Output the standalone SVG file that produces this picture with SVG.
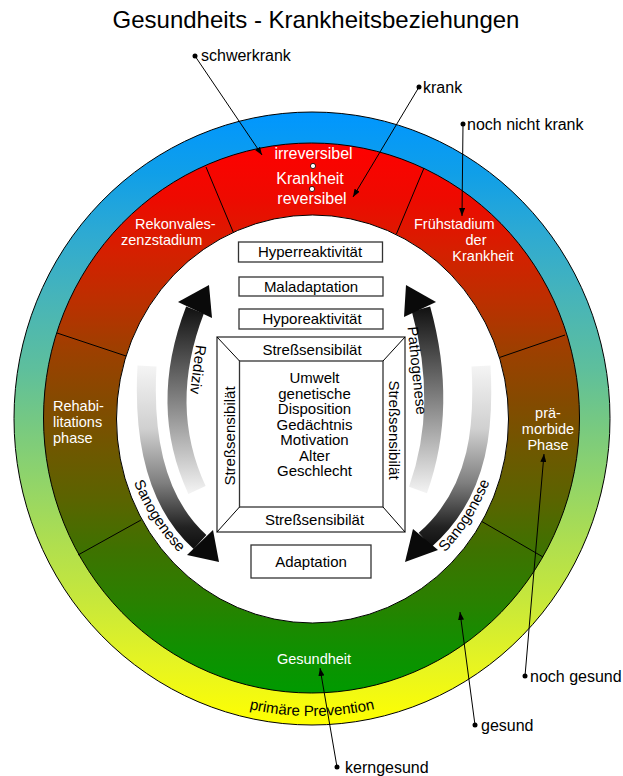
<svg xmlns="http://www.w3.org/2000/svg" width="623" height="776" viewBox="0 0 623 776">
<defs>
  <linearGradient id="gOuter" gradientUnits="userSpaceOnUse" x1="0" y1="112" x2="0" y2="725">
    <stop offset="0" stop-color="#0096ff"/>
    <stop offset="0.1" stop-color="#109fe8"/>
    <stop offset="0.2" stop-color="#2eaad2"/>
    <stop offset="0.3" stop-color="#46b4ba"/>
    <stop offset="0.42" stop-color="#5ebf9c"/>
    <stop offset="0.5" stop-color="#74c884"/>
    <stop offset="0.6" stop-color="#90d46a"/>
    <stop offset="0.7" stop-color="#aede50"/>
    <stop offset="0.8" stop-color="#c8e83a"/>
    <stop offset="0.9" stop-color="#e6f422"/>
    <stop offset="1" stop-color="#ffff00"/>
  </linearGradient>
  <linearGradient id="gMid" gradientUnits="userSpaceOnUse" x1="0" y1="143" x2="0" y2="693">
    <stop offset="0" stop-color="#ff0000"/>
    <stop offset="0.1" stop-color="#ee0a00"/>
    <stop offset="0.2" stop-color="#d42000"/>
    <stop offset="0.29" stop-color="#bb3000"/>
    <stop offset="0.38" stop-color="#9c4000"/>
    <stop offset="0.47" stop-color="#844a00"/>
    <stop offset="0.56" stop-color="#6e5800"/>
    <stop offset="0.65" stop-color="#5a6400"/>
    <stop offset="0.74" stop-color="#3e7200"/>
    <stop offset="0.83" stop-color="#2a8000"/>
    <stop offset="0.92" stop-color="#109000"/>
    <stop offset="1" stop-color="#009a00"/>
  </linearGradient>
  <linearGradient id="gRed" gradientUnits="userSpaceOnUse" x1="0" y1="307" x2="0" y2="492">
    <stop offset="0" stop-color="#111"/>
    <stop offset="1" stop-color="#f2f2f2"/>
  </linearGradient>
  <linearGradient id="gSanL" gradientUnits="userSpaceOnUse" x1="0" y1="366" x2="0" y2="545">
    <stop offset="0" stop-color="#f4f4f4"/>
    <stop offset="0.35" stop-color="#d0d0d0"/>
    <stop offset="0.65" stop-color="#808080"/>
    <stop offset="0.9" stop-color="#222"/>
    <stop offset="1" stop-color="#111"/>
  </linearGradient>
  <marker id="ah" viewBox="0 0 8 6" refX="8" refY="3" markerWidth="8" markerHeight="6" markerUnits="userSpaceOnUse" orient="auto">
    <path d="M0,0 L8,3 L0,6 z" fill="#000"/>
  </marker>
  <path id="pPrev" d="M 23,419 A 289,297 0 0 0 601,419"/>
  <path id="pSanL" d="M 130,472 Q 149,526 187,560"/>
  <path id="pSanR" d="M 433,564 Q 477,524 495,466"/>
</defs>
<style>
  text { font-family: "Liberation Sans", Arial, sans-serif; }
  .title { font-size: 24px; fill: #000; }
  .lbl { font-size: 16px; fill: #000; }
  .w15 { font-size: 14.5px; fill: #fff; }
  .w16 { font-size: 16px; fill: #fff; }
  .b15 { font-size: 15px; fill: #000; }
  .box { fill: #fff; stroke: #333; stroke-width: 1.3; }
  .ring { stroke: #000; stroke-width: 1; }
  .div { stroke: #000; stroke-width: 1; }
  .ptr { stroke: #000; stroke-width: 1; fill: none; marker-end: url(#ah); }
  .dot { fill: #000; }
  .head { fill: #0a0a0a; }
  .shaft { fill: none; stroke-width: 19; }
  .mid { text-anchor: middle; }
</style>

<text class="title mid" x="316" y="28">Gesundheits - Krankheitsbeziehungen</text>

<g id="outer-ring">
  <ellipse class="ring" cx="312" cy="418.5" rx="298" ry="306.5" fill="url(#gOuter)"/>
  <text class="b15"><textPath href="#pPrev" startOffset="50%" text-anchor="middle">primäre Prevention</textPath></text>
</g>

<g id="disease-ring">
  <ellipse class="ring" cx="311.5" cy="418" rx="268" ry="275" fill="url(#gMid)"/>
  <line class="div" x1="206" y1="167" x2="234" y2="234"/>
  <line class="div" x1="424" y1="168" x2="396" y2="235"/>
  <line class="div" x1="57" y1="333" x2="126" y2="356"/>
  <line class="div" x1="78" y1="555" x2="141" y2="520"/>
  <line class="div" x1="565" y1="335" x2="498" y2="358"/>
  <line class="div" x1="543" y1="557" x2="481" y2="521"/>
</g>

<g id="inner-area">
  <ellipse class="ring" cx="312.5" cy="419" rx="196" ry="204" fill="#fff"/>
</g>

<g id="ring-labels">
  <text class="w16 mid" x="313.5" y="159">irreversibel</text>
  <circle cx="313" cy="166" r="2.6" fill="#fff" stroke="#000" stroke-width="0.8"/>
  <text class="w16 mid" x="310" y="184">Krankheit</text>
  <circle cx="312" cy="189" r="2.6" fill="#fff" stroke="#000" stroke-width="0.8"/>
  <text class="w16 mid" x="312" y="204">reversibel</text>
  <text class="w15" x="135" y="229">Rekonvales-</text>
  <text class="w15" x="121" y="245">zenzstadium</text>
  <text class="w15" x="414" y="229">Frühstadium</text>
  <text class="w15 mid" x="476" y="245">der</text>
  <text class="w15 mid" x="483" y="261">Krankheit</text>
  <text class="w15" x="53" y="411">Rehabi-</text>
  <text class="w15" x="53" y="427">litations</text>
  <text class="w15" x="53" y="443">phase</text>
  <text class="w15 mid" x="548" y="418">prä-</text>
  <text class="w15 mid" x="548" y="434">morbide</text>
  <text class="w15 mid" x="548" y="450">Phase</text>
  <text class="w15 mid" font-size="15" x="314" y="664">Gesundheit</text>
</g>

<g id="box-hyper">
  <rect class="box" x="238.5" y="242" width="144" height="20"/>
  <text class="b15 mid" x="310" y="257">Hyperreaktivität</text>
</g>
<g id="box-mal">
  <rect class="box" x="239" y="277" width="144" height="19"/>
  <text class="b15 mid" x="311" y="291.5">Maladaptation</text>
</g>
<g id="box-hypo">
  <rect class="box" x="239" y="309" width="144" height="20"/>
  <text class="b15 mid" x="312" y="324">Hyporeaktivität</text>
</g>
<g id="box-adapt">
  <rect class="box" x="251" y="545" width="120" height="33"/>
  <text class="b15 mid" x="311" y="567">Adaptation</text>
</g>

<g id="frame">
  <rect class="box" x="217" y="337" width="188" height="195"/>
  <rect class="box" x="239.5" y="361" width="143.5" height="146"/>
  <line class="div" stroke="#333" x1="217" y1="337" x2="239.5" y2="361"/>
  <line class="div" stroke="#333" x1="405" y1="337" x2="383" y2="361"/>
  <line class="div" stroke="#333" x1="217" y1="532" x2="239.5" y2="507"/>
  <line class="div" stroke="#333" x1="405" y1="532" x2="383" y2="507"/>
  <text class="b15 mid" x="312" y="355">Streßsensibilät</text>
  <text class="b15 mid" x="314.5" y="525">Streßsensibilät</text>
  <text class="b15 mid" transform="translate(235,436) rotate(-90)">Streßsensibilät</text>
  <text class="b15 mid" transform="translate(389,430) rotate(90)">Streßsensibilät</text>
  <text class="b15 mid" x="314.5" y="383">Umwelt</text>
  <text class="b15 mid" x="314.5" y="398.5">genetische</text>
  <text class="b15 mid" x="314.5" y="414">Disposition</text>
  <text class="b15 mid" x="314.5" y="429.5">Gedächtnis</text>
  <text class="b15 mid" x="314.5" y="445">Motivation</text>
  <text class="b15 mid" x="314.5" y="460.5">Alter</text>
  <text class="b15 mid" x="314.5" y="476">Geschlecht</text>
</g>

<g id="arrow-rediziv">
  <path class="shaft" stroke="url(#gRed)" d="M 195,310 Q 158,406 197,490"/>
  <polygon class="head" points="178,302 209,285 212,318"/>
  <text class="b15 mid" transform="translate(193,369) rotate(97)">Rediziv</text>
</g>
<g id="arrow-sanogenese-left">
  <path class="shaft" stroke="url(#gSanL)" d="M 147,366 C 144,420 148,495 200,542"/>
  <polygon class="head" points="213,530 219,562 187,555"/>
  <text class="b15"><textPath href="#pSanL" startOffset="50%" text-anchor="middle">Sanogenese</textPath></text>
</g>
<g id="arrow-pathogenese">
  <path class="shaft" stroke="url(#gRed)" d="M 421,309 Q 448,406 418,490"/>
  <polygon class="head" points="436,302 406,285 404,317"/>
  <text class="b15 mid" transform="translate(412,371) rotate(84)">Pathogenese</text>
</g>
<g id="arrow-sanogenese-right">
  <path class="shaft" stroke="url(#gSanL)" d="M 481,366 C 484,420 482,490 425,540"/>
  <polygon class="head" points="413,529 405,562 438,550"/>
  <text class="b15"><textPath href="#pSanR" startOffset="50%" text-anchor="middle">Sanogenese</textPath></text>
</g>

<g id="connectors">
  <circle class="dot" cx="195" cy="56" r="2.5"/>
  <line class="ptr" x1="195" y1="56" x2="262" y2="155"/>
  <circle class="dot" cx="419" cy="87" r="2.5"/>
  <line class="ptr" x1="419" y1="87" x2="353" y2="197"/>
  <circle class="dot" cx="463" cy="124" r="2.5"/>
  <line class="ptr" x1="463" y1="124" x2="462" y2="216"/>
  <circle class="dot" cx="525" cy="676" r="2.5"/>
  <line class="ptr" x1="525" y1="676" x2="544" y2="454"/>
  <circle class="dot" cx="475" cy="725" r="2.5"/>
  <line class="ptr" x1="475" y1="725" x2="460" y2="612"/>
  <circle class="dot" cx="337" cy="767" r="2.5"/>
  <line class="ptr" x1="337" y1="767" x2="320" y2="668"/>
</g>

<g id="labels">
  <text class="lbl" x="201" y="60.5">schwerkrank</text>
  <text class="lbl" x="423" y="92.5">krank</text>
  <text class="lbl" x="467" y="129.5">noch nicht krank</text>
  <text class="lbl" x="530" y="682">noch gesund</text>
  <text class="lbl" x="481" y="731">gesund</text>
  <text class="lbl" x="345" y="773">kerngesund</text>
</g>
</svg>
